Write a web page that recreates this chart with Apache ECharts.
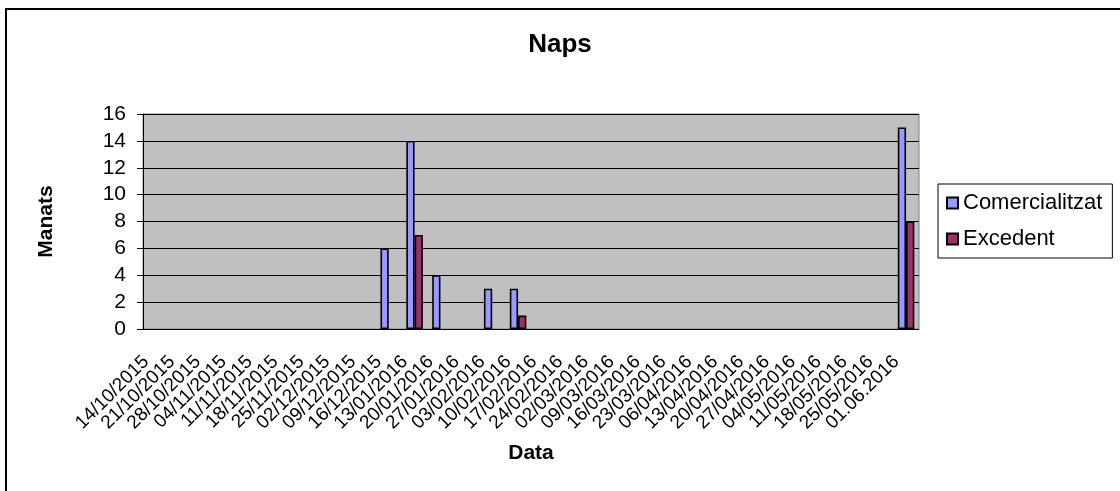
<!DOCTYPE html>
<html>
<head>
<meta charset="utf-8">
<script src="https://cdn.jsdelivr.net/npm/echarts@6/dist/echarts.min.js"></script>
<style>
  html, body { margin: 0; padding: 0; background: #fff; }
  #chart { width: 1120px; height: 491px; }
</style>
</head>
<body>
<div id="chart"></div>
<script>
// setmanes (eix X)
var categories = [
  '14/10/2015', '21/10/2015', '28/10/2015', '04/11/2015', '11/11/2015',
  '18/11/2015', '25/11/2015', '02/12/2015', '09/12/2015', '16/12/2015',
  '13/01/2016', '20/01/2016', '27/01/2016', '03/02/2016', '10/02/2016',
  '17/02/2016', '24/02/2016', '02/03/2016', '09/03/2016', '16/03/2016',
  '23/03/2016', '06/04/2016', '13/04/2016', '20/04/2016', '27/04/2016',
  '04/05/2016', '11/05/2016', '18/05/2016', '25/05/2016', '01.06.2016'
]
// manats
var comercialitzat = [null, null, null, null, null, null, null, null, null, 6,
  14, 4, null, 3, 3, null, null, null, null, null,
  null, null, null, null, null, null, null, null, null, 15]
var excedent = [null, null, null, null, null, null, null, null, null, null,
  7, null, null, null, 1, null, null, null, null, null,
  null, null, null, null, null, null, null, null, null, 8]
var yTicks = { min: 0, max: 16, interval: 2 }

var font = 'Liberation Sans, Arial, sans-serif'
var chart = echarts.init(document.getElementById('chart'))

var option = {
  animation: false,
  textStyle: { fontFamily: font },
  graphic: [{
    type: 'rect',
    shape: { x: 6, y: 9, width: 1300, height: 700 },
    style: { fill: 'none', stroke: '#000', lineWidth: 2 },
    silent: true
  }],
  title: {
    text: 'Naps',
    left: 'center',
    top: 32,
    padding: 0,
    textStyle: { fontFamily: font, fontSize: 26, fontWeight: 'bold', color: '#000' }
  },
  legend: {
    orient: 'vertical',
    left: 938,
    top: 184,
    padding: [7, 10, 7, 8],
    borderColor: '#000',
    borderWidth: 1,
    itemWidth: 11,
    itemHeight: 11,
    itemGap: 12,
    icon: 'rect',
    textStyle: { fontFamily: font, fontSize: 22, color: '#000', lineHeight: 24 },
    data: ['Comercialitzat', 'Excedent']
  },
  grid: {
    left: 143,
    right: 201,
    top: 114,
    bottom: 162,
    show: true,
    backgroundColor: '#C0C0C0',
    borderColor: '#808080',
    borderWidth: 1
  },
  xAxis: {
    type: 'category',
    data: categories,
    name: 'Data',
    nameLocation: 'middle',
    nameGap: 114,
    nameTextStyle: { fontFamily: font, fontSize: 21, fontWeight: 'bold', color: '#000' },
    axisLine: { lineStyle: { color: '#000', width: 1 } },
    axisTick: { length: 5, lineStyle: { color: '#000' } },
    axisLabel: {
      rotate: 45,
      interval: 0,
      margin: 20,
      padding: [0, 14, 0, 0],
      fontFamily: font,
      fontSize: 19,
      color: '#000'
    },
    splitLine: { show: false }
  },
  yAxis: {
    type: 'value',
    min: yTicks.min,
    max: yTicks.max,
    interval: yTicks.interval,
    name: 'Manats',
    nameLocation: 'middle',
    nameGap: 86,
    nameTextStyle: { fontFamily: font, fontSize: 21, fontWeight: 'bold', color: '#000' },
    axisLine: { show: true, lineStyle: { color: '#000', width: 1 } },
    axisTick: { show: true, length: 6, lineStyle: { color: '#000' } },
    axisLabel: { margin: 17, fontFamily: font, fontSize: 21, color: '#000' },
    splitLine: { lineStyle: { color: '#000', width: 1 } }
  },
  series: [
    {
      name: 'Comercialitzat',
      type: 'bar',
      data: comercialitzat,
      barGap: '0%',
      barCategoryGap: '36%',
      itemStyle: { color: '#9999FF', borderColor: '#000', borderWidth: 1.6 }
    },
    {
      name: 'Excedent',
      type: 'bar',
      data: excedent,
      barGap: '0%',
      barCategoryGap: '36%',
      itemStyle: { color: '#993366', borderColor: '#000', borderWidth: 1.6 }
    }
  ]
}

chart.setOption(option)
</script>
</body>
</html>
